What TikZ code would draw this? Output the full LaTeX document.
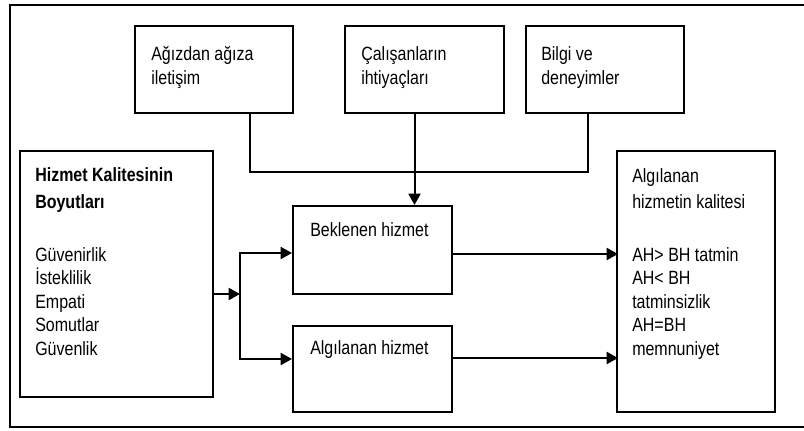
\documentclass[tikz,border=0pt]{standalone}
\usepackage{fontspec}
\usepackage{graphicx}
\setmainfont{Liberation Sans}
\usetikzlibrary{arrows.meta,fit,calc}
% the printed letters are a little taller than they are wide
\newcommand\tallfont[1]{\scalebox{1}[1.2]{#1}}
\begin{document}
\begin{tikzpicture}[x=0.75pt,y=-0.75pt,
  box/.style={draw, line width=1.5pt, rectangle, inner sep=0pt},
  lbl/.style={anchor=base west, inner sep=0pt, font=\fontsize{12}{14}\selectfont},
  head/.style={lbl, font=\fontsize{12}{14}\selectfont\bfseries},
  conn/.style={line width=1.5pt},
  arr/.style={conn, -{Triangle[length=8.5pt,width=9pt]}}]
\useasboundingbox (0,0) rectangle (804,430);
\clip (0,0) rectangle (804,430);

% outer frame, open on the right
\draw[line width=2pt] (812,5) -- (10,5) -- (10,427) -- (812,427);

% boxes
\node[box, fit={(135,26)(293,113)}] (A) {};
\node[box, fit={(345,26)(504,113)}] (B) {};
\node[box, fit={(526,26)(684,113)}] (C) {};
\node[box, fit={(20,151)(213,397)}] (L) {};
\node[box, fit={(293,206)(452,294)}] (E) {};
\node[box, fit={(293,326)(452,412)}] (P) {};
\node[box, fit={(617,151)(775,412)}] (R) {};

% texts of the top row
\node[lbl] (a1) at (151,60) {\tallfont{Ağızdan ağıza}};
\node[lbl] (a2) at (151,84) {\tallfont{iletişim}};
\node[lbl] (b1) at (361,60) {\tallfont{Çalışanların}};
\node[lbl] (b2) at (361,84) {\tallfont{ihtiyaçları}};
\node[lbl] (c1) at (541,60) {\tallfont{Bilgi ve}};
\node[lbl] (c2) at (541,84) {\tallfont{deneyimler}};

% dimensions of service quality
\node[head] (l1) at (35,181) {\tallfont{Hizmet Kalitesinin}};
\node[head] (l2) at (35,208) {\tallfont{Boyutları}};
\node[lbl] (l3) at (35,261) {\tallfont{Güvenirlik}};
\node[lbl] (l4) at (35,284.5) {\tallfont{İsteklilik}};
\node[lbl] (l5) at (35,308) {\tallfont{Empati}};
\node[lbl] (l6) at (35,331.5) {\tallfont{Somutlar}};
\node[lbl] (l7) at (35,355) {\tallfont{Güvenlik}};

% expected and perceived service
\node[lbl] (e1) at (310,236) {\tallfont{Beklenen hizmet}};
\node[lbl] (p1) at (310,354) {\tallfont{Algılanan hizmet}};

% perceived service quality
\node[lbl] (r1) at (632,182) {\tallfont{Algılanan}};
\node[lbl] (r2) at (632,208) {\tallfont{hizmetin kalitesi}};
\node[lbl] (r3) at (632,261) {\tallfont{AH> BH tatmin}};
\node[lbl] (r4) at (632,284.5) {\tallfont{AH< BH}};
\node[lbl] (r5) at (632,308) {\tallfont{tatminsizlik}};
\node[lbl] (r6) at (632,331.5) {\tallfont{AH=BH}};
\node[lbl] (r7) at (632,355) {\tallfont{memnuniyet}};

% connectors from the top row
\coordinate (adrop) at ($(A.south)+(36,0)$);
\coordinate (cdrop) at ($(C.south)+(-17,0)$);
\draw[conn] (adrop) -- ++(0,58) -| (cdrop);
\coordinate (bdrop) at ($(B.south)+(-10,0)$);
\draw[arr] (bdrop) -- (bdrop |- E.north);

% fork from the dimensions box
\coordinate (fork) at (240,294);
\coordinate (ein) at ($(E.west)+(0,3)$);
\coordinate (pin) at ($(P.west)+(0,-10)$);
\draw[arr] ($(L.east)+(0,20)$) -- (fork);
\draw[arr] (fork) |- (ein);
\draw[arr] (fork) |- (pin);

% into the quality box
\draw[arr] ($(E.east)+(0,4)$) -- ++(165,0);
\draw[arr] ($(P.east)+(0,-11)$) -- ++(165,0);
\end{tikzpicture}
\end{document}
